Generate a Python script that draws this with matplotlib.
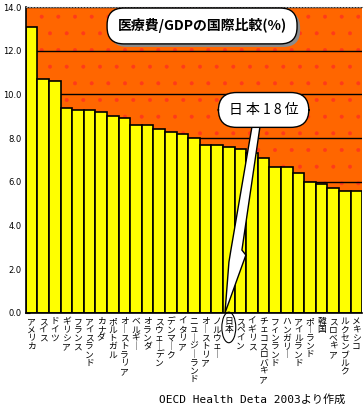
import matplotlib
matplotlib.use('Agg')
import matplotlib.pyplot as plt
import matplotlib.patheffects as pe
from matplotlib.patches import Polygon, Ellipse, Rectangle

plt.rcParams['font.family'] = ['Noto Sans CJK JP', 'DejaVu Sans']
plt.rcParams['hatch.linewidth'] = 0.4

# 医療費/GDP (%)  OECD Health Data 2003
countries = ['アメリカ', 'スイス', 'ドイツ', 'ギリシア', 'フランス', 'アイスランド',
             'カナダ', 'ポルトガル', 'オーストラリア', 'ベルギー', 'オランダ',
             'スウェーデン', 'デンマーク', 'イタリア', 'ニュージーランド', 'オーストリア',
             'ノルウェー', '日本', 'スペイン', 'イギリス', 'チェコスロバキア',
             'フィンランド', 'ハンガリー', 'アイルランド', 'ポーランド', '韓国',
             'スロベキア', 'ルクセンブルク', 'メキシコ']
values = [13.1, 10.7, 10.6, 9.4, 9.3, 9.3, 9.2, 9.0, 8.9, 8.6, 8.6, 8.4, 8.3,
          8.2, 8.0, 7.7, 7.7, 7.6, 7.5, 7.3, 7.1, 6.7, 6.7, 6.4, 6.0, 5.9,
          5.7, 5.6, 5.6]
yticks = [0, 2, 4, 6, 8, 10, 12, 14]

japan = countries.index('日本')

fig = plt.figure(figsize=(3.64, 4.12), dpi=100)
ax = fig.add_axes([0.0706, 0.2403, 0.9247, 0.7427])
ax.set_facecolor('#FF6600')

# red dots on the orange background
ax.add_patch(Rectangle((0, 0), 1, 1, transform=ax.transAxes, facecolor='none',
                       edgecolor='#FF3A1A', hatch='.', lw=0, zorder=0.5))

x = list(range(len(countries)))
ax.bar(x, values, width=1.0, color='#FFFF00', edgecolor='black', linewidth=1.2, zorder=2)

ax.set_xlim(-0.5, len(countries) - 0.5)
ax.set_ylim(0, 14)
ax.set_yticks(yticks)
ax.set_yticklabels([f'{v:.1f}' for v in yticks], family='DejaVu Sans', fontsize=6)
ax.yaxis.grid(True, color='black', linewidth=1.0, zorder=1)
ax.set_axisbelow(True)
ax.tick_params(axis='y', direction='in', length=3, pad=3, color='black')
ax.tick_params(axis='x', length=0, pad=3)

vert = ['\n'.join(c.replace('ー', '｜')) for c in countries]
ax.set_xticks(x)
ax.set_xticklabels(vert, fontsize=6.3, linespacing=0.9, va='top')

ax.spines['right'].set_visible(False)
ax.spines['top'].set_color('#888888')
ax.spines['top'].set_linestyle(':')
ax.spines['left'].set_linewidth(1.2)
ax.spines['bottom'].set_linewidth(1.2)

# title box with gray shadow
t = ax.text(0.524, 0.938, '医療費/GDPの国際比較(%)', transform=ax.transAxes,
            ha='center', va='center', fontsize=10, fontweight='bold', zorder=6,
            bbox=dict(boxstyle='round,pad=0.75,rounding_size=1.2',
                      fc='white', ec='black', lw=1.0))
t.get_bbox_patch().set_path_effects([
    pe.SimplePatchShadow(offset=(2.2, -2.2), shadow_rgbFace='#8c8c8c', alpha=1.0),
    pe.Normal()])

# lightning pointer from the label to 日本
bolt = [(japan + 1.99, 8.51), (japan + 2.68, 8.51), (japan + 1.13, 2.88),
        (japan + 1.47, 2.65), (japan - 0.33, 0.0), (japan + 0.01, 2.33),
        (japan + 0.18, 2.88)]
ax.add_patch(Polygon(bolt, closed=True, fc='white', ec='black', lw=1.0,
                     zorder=4, clip_on=False))

ax.text(japan + 3.0, 9.29, '日 本 1 8 位', ha='center', va='center', fontsize=10,
        zorder=6, bbox=dict(boxstyle='round,pad=0.75,rounding_size=1.3',
                            fc='white', ec='black', lw=1.0))

# circle around the 日本 label
ax.add_patch(Ellipse((japan, -0.66), 1.2, 1.4, fc='none', ec='black', lw=0.8,
                     clip_on=False, zorder=6))

fig.text(0.948, 0.03, 'OECD Health Deta 2003より作成', ha='right', va='center',
         fontsize=8, family=['DejaVu Sans Mono', 'Noto Sans CJK JP'])

fig.savefig('out.png', dpi=100)
